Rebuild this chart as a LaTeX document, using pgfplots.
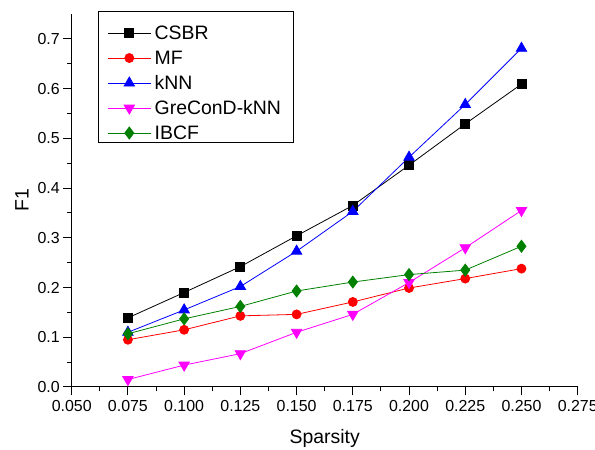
\documentclass[border=0pt]{standalone}
\usepackage{fontspec}
\setmainfont{Liberation Sans}
\usepackage{pgfplots}
\pgfplotsset{compat=1.18}

\definecolor{ogreen}{RGB}{0,128,0}
\definecolor{omag}{RGB}{255,0,255}

\begin{document}
\begin{tikzpicture}
\begin{axis}[
    scale only axis,
    width=506bp, height=373bp,
    xmin=0.05, xmax=0.275,
    ymin=0, ymax=0.75,
    axis lines=left,
    axis line style={-, line width=1bp},
    xtick={0.05,0.075,...,0.276},
    ytick={0,0.1,...,0.71},
    minor x tick num=1,
    minor y tick num=1,
    tick align=outside,
    major tick length=8.5bp,
    minor tick length=4.5bp,
    every tick/.style={black, line width=1bp},
    ticklabel style={font=\fontsize{16}{19}\selectfont},
    xticklabel style={yshift=-1.5bp, /pgf/number format/.cd, fixed, fixed zerofill, precision=3},
    yticklabel style={/pgf/number format/.cd, fixed, fixed zerofill, precision=1},
    /pgf/number format/assume math mode=true,
    scaled ticks=false,
    xlabel={Sparsity},
    ylabel={F1},
    label style={font=\fontsize{19.5}{23}\selectfont},
    xlabel style={yshift=-11bp},
    ylabel style={yshift=2bp},
    every axis plot/.append style={line width=0.8bp},
    legend cell align=left,
    legend style={
        at={(axis description cs:0.052,1.009)}, anchor=north west,
        font=\fontsize{19.5}{23}\selectfont,
        draw=black, line width=0.8bp,
        row sep=0pt,
        inner xsep=9bp, inner ysep=3bp,
        nodes={inner xsep=3.5bp, inner ysep=0pt, text height=25bp, text depth=-1bp},
    },
    legend image code/.code={
        \draw[mark repeat=2, mark phase=2] plot coordinates {(0bp,-6.5bp) (21.5bp,-6.5bp) (43bp,-6.5bp)};
    },
]
\coordinate (bl) at (rel axis cs:0,0);
\coordinate (tr) at (rel axis cs:1,1);

\addplot[black, mark=square*, mark size=4.5bp, mark options={solid}] coordinates {
(0.075,0.139)(0.100,0.190)(0.125,0.242)(0.150,0.304)(0.175,0.365)(0.200,0.446)(0.225,0.529)(0.250,0.609)};
\addlegendentry{CSBR}

\addplot[red, mark=*, mark size=4.5bp] coordinates {
(0.075,0.095)(0.100,0.115)(0.125,0.143)(0.150,0.146)(0.175,0.171)(0.200,0.199)(0.225,0.218)(0.250,0.238)};
\addlegendentry{MF}

\addplot[blue, mark=triangle*, mark size=6bp] coordinates {
(0.075,0.110)(0.100,0.155)(0.125,0.202)(0.150,0.273)(0.175,0.353)(0.200,0.462)(0.225,0.568)(0.250,0.681)};
\addlegendentry{kNN}

\addplot[omag, mark=triangle*, mark size=6bp, mark options={rotate=180}] coordinates {
(0.075,0.015)(0.100,0.044)(0.125,0.067)(0.150,0.110)(0.175,0.146)(0.200,0.210)(0.225,0.280)(0.250,0.355)};
\addlegendentry{GreConD-kNN}

\addplot[ogreen, mark=diamond*, mark size=6bp] coordinates {
(0.075,0.107)(0.100,0.137)(0.125,0.162)(0.150,0.193)(0.175,0.211)(0.200,0.226)(0.225,0.235)(0.250,0.283)};
\addlegendentry{IBCF}
\end{axis}
\pgfresetboundingbox
\path ([xshift=-71.7bp,yshift=-63bp]bl) rectangle ([xshift=17.3bp,yshift=14bp]tr);
\end{tikzpicture}
\end{document}
